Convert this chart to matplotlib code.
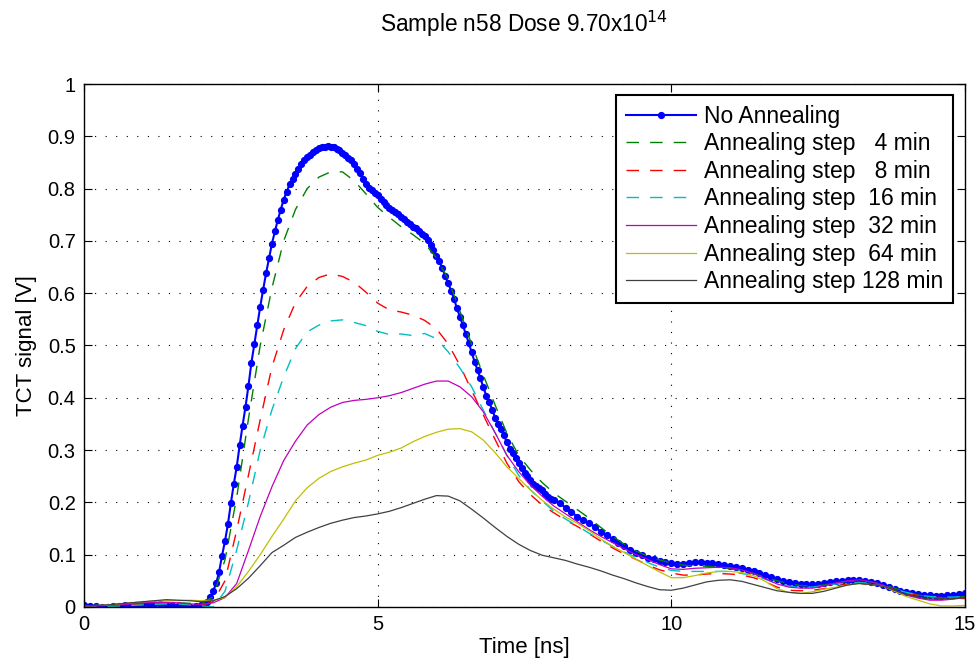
import numpy as np
import matplotlib
matplotlib.use("Agg")
import matplotlib.pyplot as plt

plt.rcParams['font.family'] = ['Liberation Sans', 'DejaVu Sans']

# blue trace is sampled denser between 2 and 8 ns
blue_t = np.concatenate([np.round(np.arange(20) * 0.1, 2),
                         np.round(2.0 + np.arange(121) * 0.05, 2),
                         np.round(8.1 + np.arange(70) * 0.1, 2)])
no_anneal = [
    0.003, 0.002, 0.001, 0.000, 0.000, 0.001, 0.002, 0.003, 0.003, 0.004,
    0.005, 0.005, 0.006, 0.005, 0.004, 0.003, 0.002, 0.001, 0.000, 0.001,
    # 2.00 - 8.00 ns
    0.003, 0.006, 0.010, 0.019, 0.031, 0.045, 0.067, 0.098, 0.126, 0.158,
    0.198, 0.235, 0.268, 0.309, 0.347, 0.383, 0.423, 0.467, 0.503, 0.540,
    0.574, 0.607, 0.638, 0.667, 0.695, 0.718, 0.740, 0.760, 0.779, 0.794,
    0.808, 0.818, 0.828, 0.838, 0.847, 0.854, 0.860, 0.865, 0.870, 0.874,
    0.877, 0.879, 0.880, 0.881, 0.880, 0.879, 0.876, 0.873, 0.869, 0.864,
    0.859, 0.854, 0.847, 0.838, 0.829, 0.819, 0.809, 0.802, 0.797, 0.792,
    0.787, 0.781, 0.775, 0.768, 0.763, 0.759, 0.756, 0.751, 0.746, 0.741,
    0.736, 0.732, 0.727, 0.724, 0.719, 0.714, 0.709, 0.702, 0.693, 0.682,
    0.671, 0.661, 0.648, 0.633, 0.619, 0.605, 0.589, 0.571, 0.555, 0.539,
    0.522, 0.505, 0.487, 0.469, 0.453, 0.437, 0.420, 0.404, 0.392, 0.377,
    0.362, 0.350, 0.340, 0.328, 0.315, 0.303, 0.294, 0.285, 0.276, 0.266,
    0.257, 0.250, 0.243, 0.236, 0.232, 0.227, 0.223, 0.217, 0.211, 0.207,
    0.204,
    # 8.1 - 15.0 ns
    0.198, 0.190, 0.181, 0.173, 0.166, 0.161, 0.153, 0.144, 0.137, 0.130,
    0.123, 0.116, 0.109, 0.104, 0.099, 0.094, 0.091, 0.088, 0.086, 0.085,
    0.083, 0.083, 0.085, 0.086, 0.086, 0.085, 0.084, 0.082, 0.080, 0.078,
    0.076, 0.074, 0.071, 0.068, 0.065, 0.062, 0.058, 0.054, 0.050, 0.047,
    0.045, 0.044, 0.044, 0.044, 0.044, 0.045, 0.047, 0.049, 0.050, 0.051,
    0.052, 0.052, 0.050, 0.048, 0.045, 0.042, 0.038, 0.034, 0.031, 0.028,
    0.026, 0.025, 0.023, 0.022, 0.021, 0.021, 0.022, 0.023, 0.025, 0.026,
]

# annealing steps, every 0.2 ns from 0 to 15
t = np.round(np.arange(76) * 0.2, 2)
step4 = [
    0.002, 0.002, 0.001, 0.002, 0.004, 0.006, 0.007, 0.008, 0.008, 0.007,
    0.006, 0.020, 0.090, 0.210, 0.360, 0.500, 0.610, 0.700, 0.760, 0.800,
    0.822, 0.832, 0.832, 0.815, 0.790, 0.764, 0.745, 0.727, 0.712, 0.695,
    0.668, 0.627, 0.566, 0.502, 0.443, 0.386, 0.332, 0.290, 0.262, 0.238,
    0.218, 0.202, 0.186, 0.170, 0.152, 0.135, 0.120, 0.107, 0.097, 0.090,
    0.084, 0.080, 0.078, 0.078, 0.076, 0.073, 0.070, 0.064, 0.057, 0.050,
    0.045, 0.041, 0.040, 0.042, 0.046, 0.049, 0.050, 0.048, 0.043, 0.036,
    0.029, 0.023, 0.019, 0.017, 0.018, 0.020,
]
step8 = [
    0.001, 0.002, 0.002, 0.003, 0.004, 0.006, 0.007, 0.008, 0.007, 0.005,
    0.003, 0.010, 0.050, 0.147, 0.252, 0.358, 0.459, 0.530, 0.582, 0.613,
    0.630, 0.637, 0.632, 0.621, 0.602, 0.581, 0.568, 0.564, 0.558, 0.548,
    0.532, 0.503, 0.462, 0.414, 0.367, 0.320, 0.275, 0.240, 0.215, 0.195,
    0.180, 0.166, 0.154, 0.140, 0.126, 0.113, 0.101, 0.091, 0.080, 0.071,
    0.065, 0.061, 0.061, 0.063, 0.064, 0.063, 0.061, 0.056, 0.048, 0.038,
    0.032, 0.031, 0.032, 0.035, 0.040, 0.044, 0.045, 0.043, 0.040, 0.033,
    0.026, 0.022, 0.019, 0.018, 0.017, 0.016,
]
step16 = [
    0.001, 0.001, 0.001, 0.002, 0.003, 0.004, 0.005, 0.006, 0.006, 0.004,
    0.002, 0.000, 0.030, 0.109, 0.200, 0.300, 0.377, 0.440, 0.494, 0.526,
    0.539, 0.547, 0.549, 0.544, 0.538, 0.527, 0.521, 0.522, 0.519, 0.523,
    0.513, 0.488, 0.457, 0.421, 0.376, 0.333, 0.290, 0.252, 0.224, 0.203,
    0.183, 0.168, 0.155, 0.141, 0.128, 0.116, 0.105, 0.095, 0.085, 0.076,
    0.070, 0.068, 0.068, 0.068, 0.068, 0.068, 0.064, 0.060, 0.053, 0.045,
    0.040, 0.037, 0.038, 0.041, 0.044, 0.046, 0.047, 0.045, 0.040, 0.034,
    0.028, 0.023, 0.020, 0.019, 0.019, 0.020,
]
step32 = [
    0.001, 0.002, 0.003, 0.004, 0.006, 0.008, 0.009, 0.009, 0.008, 0.006,
    0.005, 0.008, 0.018, 0.045, 0.108, 0.173, 0.230, 0.280, 0.317, 0.348,
    0.368, 0.382, 0.391, 0.395, 0.397, 0.400, 0.404, 0.410, 0.418, 0.426,
    0.432, 0.432, 0.421, 0.402, 0.373, 0.333, 0.290, 0.259, 0.233, 0.212,
    0.193, 0.178, 0.163, 0.148, 0.135, 0.123, 0.111, 0.100, 0.091, 0.081,
    0.073, 0.072, 0.074, 0.075, 0.076, 0.075, 0.071, 0.064, 0.054, 0.044,
    0.038, 0.036, 0.036, 0.040, 0.046, 0.050, 0.052, 0.048, 0.042, 0.032,
    0.023, 0.017, 0.013, 0.013, 0.015, 0.018,
]
step64 = [
    0.002, 0.003, 0.004, 0.006, 0.008, 0.010, 0.011, 0.012, 0.012, 0.013,
    0.012, 0.013, 0.018, 0.039, 0.068, 0.100, 0.135, 0.168, 0.203, 0.228,
    0.246, 0.259, 0.268, 0.275, 0.281, 0.290, 0.296, 0.304, 0.316, 0.326,
    0.334, 0.340, 0.341, 0.335, 0.319, 0.295, 0.268, 0.246, 0.224, 0.204,
    0.187, 0.172, 0.160, 0.146, 0.130, 0.116, 0.104, 0.091, 0.079, 0.067,
    0.056, 0.056, 0.060, 0.065, 0.068, 0.068, 0.066, 0.060, 0.049, 0.035,
    0.028, 0.026, 0.029, 0.034, 0.038, 0.042, 0.045, 0.043, 0.040, 0.030,
    0.020, 0.013, 0.006, 0.002, 0.002, 0.003,
]
step128 = [
    0.002, 0.003, 0.004, 0.006, 0.008, 0.010, 0.012, 0.014, 0.013, 0.012,
    0.010, 0.012, 0.020, 0.035, 0.055, 0.079, 0.104, 0.118, 0.133, 0.143,
    0.152, 0.160, 0.166, 0.171, 0.174, 0.178, 0.183, 0.190, 0.198, 0.206,
    0.213, 0.212, 0.203, 0.187, 0.170, 0.152, 0.135, 0.120, 0.108, 0.099,
    0.094, 0.089, 0.082, 0.076, 0.069, 0.061, 0.054, 0.046, 0.039, 0.033,
    0.032, 0.036, 0.042, 0.048, 0.051, 0.052, 0.049, 0.043, 0.037, 0.031,
    0.028, 0.026, 0.026, 0.030, 0.036, 0.042, 0.045, 0.043, 0.040, 0.032,
    0.024, 0.019, 0.015, 0.015, 0.016, 0.018,
]

labels = ['No Annealing',
          'Annealing step   4 min',
          'Annealing step   8 min',
          'Annealing step  16 min',
          'Annealing step  32 min',
          'Annealing step  64 min',
          'Annealing step 128 min']
yticks = [0, 0.1, 0.2, 0.3, 0.4, 0.5, 0.6, 0.7, 0.8, 0.9, 1]
ytick_labels = ['0', '0.1', '0.2', '0.3', '0.4', '0.5', '0.6', '0.7', '0.8', '0.9', '1']
xticks = [0, 5, 10, 15]

fig = plt.figure(figsize=(9.78, 6.71), dpi=100)
ax = fig.add_axes([0.0859, 0.0954, 0.9008, 0.7794])

ax.plot(blue_t, no_anneal, '-', color=(0, 0, 1), lw=1.5, marker='o', ms=4.2,
        label=labels[0])
ax.plot(t, step4, color=(0, 0.5, 0), lw=1.0, dashes=(9, 8), label=labels[1])
ax.plot(t, step8, color=(1, 0, 0), lw=1.0, dashes=(9, 8), label=labels[2])
ax.plot(t, step16, color=(0, 0.75, 0.75), lw=1.0, dashes=(9, 8), label=labels[3])
ax.plot(t, step32, color=(0.75, 0, 0.75), lw=0.9, label=labels[4])
ax.plot(t, step64, color=(0.75, 0.75, 0), lw=0.9, label=labels[5])
ax.plot(t, step128, color=(0.25, 0.25, 0.25), lw=0.9, label=labels[6])

ax.set_xlim(0, 15)
ax.set_ylim(0, 1)
ax.set_xticks(xticks)
ax.set_xticklabels([str(x) for x in xticks])
ax.set_yticks(yticks)
ax.set_yticklabels(ytick_labels)
ax.tick_params(direction='in', top=True, right=True, length=6, width=0.8,
               labelsize=14.5, pad=6)
for s in ax.spines.values():
    s.set_linewidth(1.0)
ax.grid(True, color='black', linestyle=(0, (1, 8.5)), linewidth=0.8)

ax.set_xlabel('Time [ns]', fontsize=16, labelpad=2)
ax.set_ylabel('TCT signal [V]', fontsize=16, labelpad=8)
ax.text(0.5, 1.115, r'Sample n58 Dose 9.70x10$^{14}$', transform=ax.transAxes,
        ha='center', va='center', fontsize=16.3)

leg = ax.legend(loc='upper right', bbox_to_anchor=(0.986, 0.979), borderaxespad=0,
                fontsize=16.5, handlelength=3.05, handletextpad=0.35,
                labelspacing=0.2, borderpad=0.42, fancybox=False, framealpha=1)
leg.get_frame().set_edgecolor('black')
leg.get_frame().set_linewidth(1.5)

fig.savefig('out.png', dpi=100)
